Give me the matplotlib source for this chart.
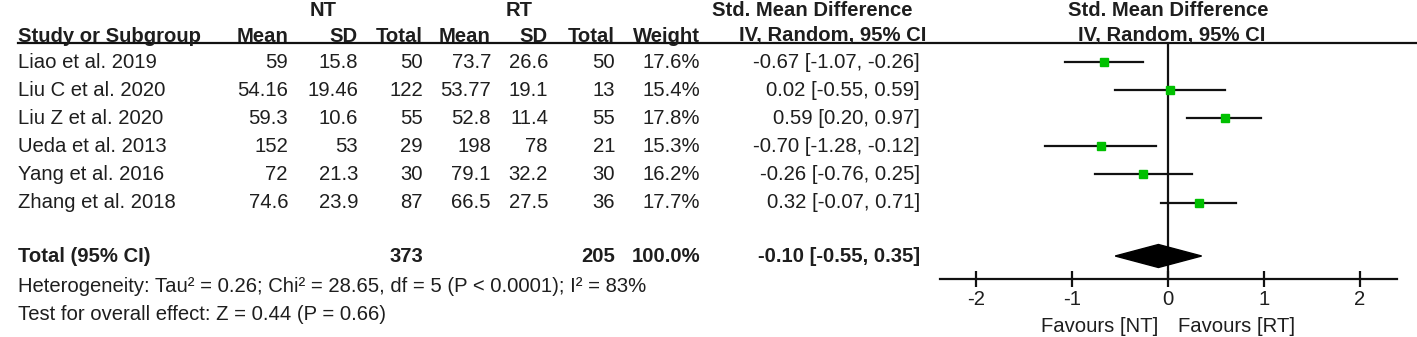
import numpy as np
import matplotlib.pyplot as plt

plt.rcParams['font.family'] = ['Liberation Sans', 'DejaVu Sans']

# ---- data ----
studies = ['Liao et al. 2019', 'Liu C et al. 2020', 'Liu Z et al. 2020',
           'Ueda et al. 2013', 'Yang et al. 2016', 'Zhang et al. 2018']
nt_mean = ['59', '54.16', '59.3', '152', '72', '74.6']
nt_sd = ['15.8', '19.46', '10.6', '53', '21.3', '23.9']
nt_total = [50, 122, 55, 29, 30, 87]
rt_mean = ['73.7', '53.77', '52.8', '198', '79.1', '66.5']
rt_sd = ['26.6', '19.1', '11.4', '78', '32.2', '27.5']
rt_total = [50, 13, 55, 21, 30, 36]
weight = [17.6, 15.4, 17.8, 15.3, 16.2, 17.7]
smd = [-0.67, 0.02, 0.59, -0.70, -0.26, 0.32]
ci_lo = [-1.07, -0.55, 0.20, -1.28, -0.76, -0.07]
ci_hi = [-0.26, 0.59, 0.97, -0.12, 0.25, 0.71]

total_smd, total_lo, total_hi = -0.10, -0.55, 0.35
heterogeneity = 'Heterogeneity: Tau² = 0.26; Chi² = 28.65, df = 5 (P < 0.0001); I² = 83%'
overall = 'Test for overall effect: Z = 0.44 (P = 0.66)'
xticks = [-2, -1, 0, 1, 2]

# ---- layout (pixel rows) ----
W, H = 1417, 337
row_y = [62, 90, 118, 146, 174, 203]
total_y = 256
txt = '#1e1e1e'
fs = 14.6

fig = plt.figure(figsize=(W / 100, H / 100), dpi=100)
tab = fig.add_axes([0, 0, 1, 1])
tab.set_xlim(0, W)
tab.set_ylim(H, 0)
tab.axis('off')

def t(x, y, s, ha='right', bold=False):
    tab.text(x, y, s, ha=ha, va='center', fontsize=fs, color=txt,
             fontweight='bold' if bold else 'normal')

# headers
t(323, 10, 'NT', ha='center', bold=True)
t(519, 10, 'RT', ha='center', bold=True)
t(812, 10, 'Std. Mean Difference', ha='center', bold=True)
t(1168, 10, 'Std. Mean Difference', ha='center', bold=True)
t(18, 36, 'Study or Subgroup', ha='left', bold=True)
for x, s in zip([288, 358, 423, 491, 548, 615, 700],
                ['Mean', 'SD', 'Total', 'Mean', 'SD', 'Total', 'Weight']):
    t(x, 36, s, bold=True)
t(833, 36, 'IV, Random, 95% CI', ha='center', bold=True)
t(1172, 36, 'IV, Random, 95% CI', ha='center', bold=True)
tab.plot([18, W], [43, 43], color='#111111', lw=1.6)

# study rows
for i, y in enumerate(row_y):
    t(18, y, studies[i], ha='left')
    t(288, y, nt_mean[i])
    t(358, y, nt_sd[i])
    t(423, y, str(nt_total[i]))
    t(491, y, rt_mean[i])
    t(548, y, rt_sd[i])
    t(615, y, str(rt_total[i]))
    t(700, y, f'{weight[i]:.1f}%')
    t(920, y, f'{smd[i]:.2f} [{ci_lo[i]:.2f}, {ci_hi[i]:.2f}]')

# total row
t(18, total_y, 'Total (95% CI)', ha='left', bold=True)
t(423, total_y, str(sum(nt_total)), bold=True)
t(615, total_y, str(sum(rt_total)), bold=True)
t(700, total_y, f'{sum(weight):.1f}%', bold=True)
t(920, total_y, f'{total_smd:.2f} [{total_lo:.2f}, {total_hi:.2f}]', bold=True)
t(18, 286, heterogeneity, ha='left')
t(18, 314, overall, ha='left')

# ---- forest plot ----
x0, x1, ytop, ybot = 940, 1397, 44, 279
ax = fig.add_axes([x0 / W, 1 - ybot / H, (x1 - x0) / W, (ybot - ytop) / H])
ax.set_ylim(ybot, ytop)
ax.set_xlim(-2.375, 2.385)
ax.patch.set_alpha(0)
for side in ['top', 'right', 'left']:
    ax.spines[side].set_visible(False)
ax.spines['bottom'].set_linewidth(1.6)
ax.spines['bottom'].set_color('#111111')
ax.set_yticks([])
ax.set_xticks(xticks)
ax.set_xticklabels([str(v) for v in xticks], fontsize=fs, color=txt)
ax.tick_params(axis='x', direction='inout', length=12, width=1.6,
               color='#111111', pad=2)
ax.axvline(0, color='#111111', lw=1.6)

for i, y in enumerate(row_y):
    ax.plot([ci_lo[i], ci_hi[i]], [y, y], color='#111111', lw=1.6)
    ax.plot(smd[i], y, marker='s', color='#00c000', ms=weight[i] * 0.36,
            mec='#00c000')

ax.fill([total_lo, total_smd, total_hi, total_smd],
        [total_y, total_y - 11.5, total_y, total_y + 11.5],
        color='black', zorder=3)

t(1100, 326, 'Favours [NT]', ha='center')
t(1237, 326, 'Favours [RT]', ha='center')

fig.savefig('out.png', dpi=100)
